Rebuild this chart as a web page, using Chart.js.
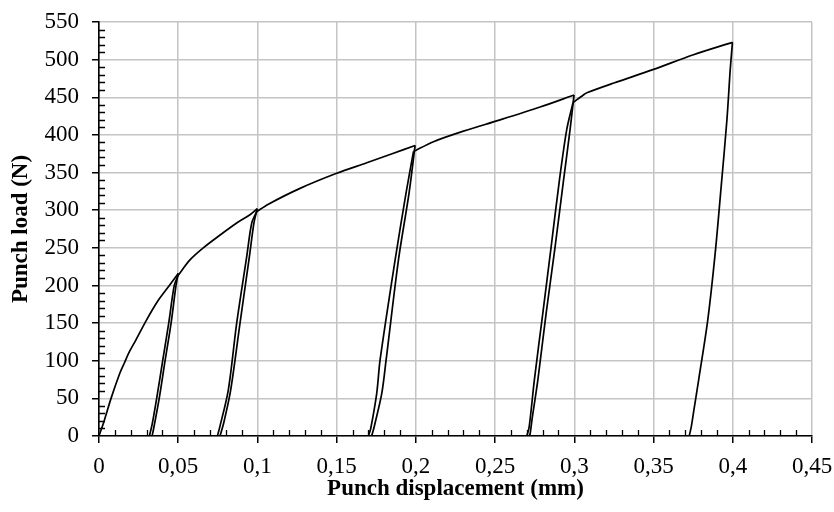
<!DOCTYPE html>
<html>
<head>
<meta charset="utf-8">
<script src="https://cdn.jsdelivr.net/npm/chart.js@4"></script>
<style>
    html, body { margin: 0; padding: 0; background: #fff; }
    #wrap { width: 834px; height: 512px; }
</style>
</head>
<body>
<div id="wrap"><canvas id="chart" width="834" height="512"></canvas></div>
<script>
// punch displacement (mm) / punch load (N)
const loadDisp1 = [0, 0.0034, 0.0076, 0.0129, 0.016, 0.0192, 0.0234, 0.0297, 0.037, 0.0444, 0.05];
const loadN1 = [0, 21, 50, 82, 97, 112, 128, 153, 179, 200, 216];
const unloadDisp1 = [0.05, 0.0486, 0.0455, 0.0417, 0.038, 0.0345, 0.0335];
const unloadN1 = [216, 200, 150, 100, 50, 10, 0];
const reloadDisp1 = [0.0318, 0.0335, 0.0364, 0.0402, 0.044, 0.0475, 0.0498];
const reloadN1 = [0, 15, 50, 100, 150, 200, 213];

const loadDisp2 = [0.0498, 0.0574, 0.0658, 0.0764, 0.0869, 0.0953, 0.0999];
const loadN2 = [213, 234, 250, 267, 283, 294, 302];
const unloadDisp2 = [0.0999, 0.0978, 0.0949, 0.089, 0.0831, 0.079, 0.0768, 0.0762];
const unloadN2 = [302, 283, 238, 150, 61, 20, 3, 0];
const reloadDisp2 = [0.0747, 0.076, 0.0816, 0.0869, 0.0932, 0.0964, 0.0995];
const reloadN2 = [0, 10, 61, 150, 238, 283, 298];

const loadDisp3 = [0.0995, 0.1069, 0.1269, 0.15, 0.169, 0.185, 0.1995];
const loadN3 = [298, 308, 329, 349, 363, 375, 386];
const unloadDisp3 = [0.1995, 0.1957, 0.189, 0.1812, 0.1785, 0.174, 0.1725, 0.172];
const unloadN3 = [386, 323, 234, 101, 57, 15, 3, 0];
const reloadDisp3 = [0.17, 0.1715, 0.1753, 0.1774, 0.1869, 0.1938, 0.1985];
const reloadN3 = [0, 10, 57, 101, 234, 323, 378];

const loadDisp4 = [0.1985, 0.2111, 0.23, 0.2532, 0.2784, 0.2998];
const loadN4 = [378, 391, 405, 420, 437, 453];
const unloadDisp4 = [0.2998, 0.2973, 0.2932, 0.2879, 0.2822, 0.277, 0.2735, 0.2721, 0.2715];
const unloadN4 = [453, 407, 340, 252, 163, 75, 25, 3, 0];
const reloadDisp4 = [0.27, 0.2715, 0.2748, 0.2801, 0.2854, 0.2906, 0.2952, 0.2992];
const reloadN4 = [0, 12, 75, 163, 252, 340, 407, 443];

const loadDisp5 = [0.2992, 0.3057, 0.3079, 0.325, 0.35, 0.3752, 0.3998];
const loadN5 = [443, 453, 456, 469, 487, 506.5, 523];
const unloadDisp5 = [0.3998, 0.3984, 0.3963, 0.3927, 0.3889, 0.3842, 0.3785, 0.3755, 0.3738, 0.3725];
const unloadN5 = [523, 487, 420, 332, 243, 154, 75, 35, 12, 0];

const xTicks = [0, 0.45, 0.05];
const yTicks = [0, 550, 50];

const segments = [
    [loadDisp1, loadN1], [unloadDisp1, unloadN1], [reloadDisp1, reloadN1],
    [loadDisp2, loadN2], [unloadDisp2, unloadN2], [reloadDisp2, reloadN2],
    [loadDisp3, loadN3], [unloadDisp3, unloadN3], [reloadDisp3, reloadN3],
    [loadDisp4, loadN4], [unloadDisp4, unloadN4], [reloadDisp4, reloadN4],
    [loadDisp5, loadN5], [unloadDisp5, unloadN5],
];

const FONT = '"Liberation Serif", "Times New Roman", serif';

// small inward ticks between the labelled ones
const minorTicks = {
    id: 'minorTicks',
    afterDraw(chart) {
        const { ctx, scales: { x, y }, chartArea } = chart;
        ctx.save();
        ctx.strokeStyle = '#000';
        ctx.lineWidth = 1.3;
        ctx.beginPath();
        for (let i = 1; i < 45; i++) {
            if (i % 5 === 0) continue;
            const px = Math.round(x.getPixelForValue(i / 100)) + 0.5;
            ctx.moveTo(px, chartArea.bottom);
            ctx.lineTo(px, chartArea.bottom - 6);
        }
        for (let j = 1; j < 55; j++) {
            if (j % 5 === 0) continue;
            const py = Math.round(y.getPixelForValue(j * 10)) + 0.5;
            ctx.moveTo(chartArea.left, py);
            ctx.lineTo(chartArea.left + 6, py);
        }
        ctx.stroke();
        ctx.restore();
    },
};

new Chart(document.getElementById('chart'), {
    type: 'scatter',
    data: {
        datasets: segments.map(([xs, ys]) => ({
            data: xs.map((v, i) => ({ x: v, y: ys[i] })),
            showLine: true,
            borderColor: '#000',
            borderWidth: 1.7,
            pointRadius: 0,
            tension: 0.3,
        })),
    },
    options: {
        responsive: false,
        animation: false,
        layout: { autoPadding: false, padding: { left: 0, right: 22, top: 22, bottom: 0 } },
        plugins: { legend: { display: false }, tooltip: { enabled: false } },
        scales: {
            x: {
                type: 'linear',
                min: xTicks[0], max: xTicks[1],
                afterFit(scale) {
                    scale.height = 76;
                    scale.paddingLeft = 0;
                    scale.paddingRight = 0;
                },
                ticks: {
                    stepSize: xTicks[2],
                    color: '#000',
                    padding: 10,
                    font: { family: FONT, size: 23 },
                    callback: v => String(Math.round(v * 100) / 100).replace('.', ','),
                },
                grid: { color: '#c4c4c4', lineWidth: 1.5, tickColor: '#000', tickLength: 7 },
                border: { color: '#000', width: 1.6 },
                title: {
                    display: true,
                    text: 'Punch displacement (mm)',
                    color: '#000',
                    font: { family: FONT, size: 23, weight: 'bold' },
                    padding: { top: 0, bottom: 9 },
                },
            },
            y: {
                min: yTicks[0], max: yTicks[1],
                afterFit(scale) {
                    scale.width = 99;
                    scale.paddingTop = 0;
                    scale.paddingBottom = 0;
                },
                ticks: {
                    stepSize: yTicks[2],
                    color: '#000',
                    padding: 13,
                    font: { family: FONT, size: 23 },
                },
                grid: { color: '#c4c4c4', lineWidth: 1.5, tickColor: '#000', tickLength: 7 },
                border: { color: '#000', width: 1.6 },
                title: {
                    display: true,
                    text: 'Punch load (N)',
                    color: '#000',
                    font: { family: FONT, size: 23, weight: 'bold' },
                    padding: { top: 7, bottom: 0 },
                },
            },
        },
    },
    plugins: [minorTicks],
});
</script>
</body>
</html>
